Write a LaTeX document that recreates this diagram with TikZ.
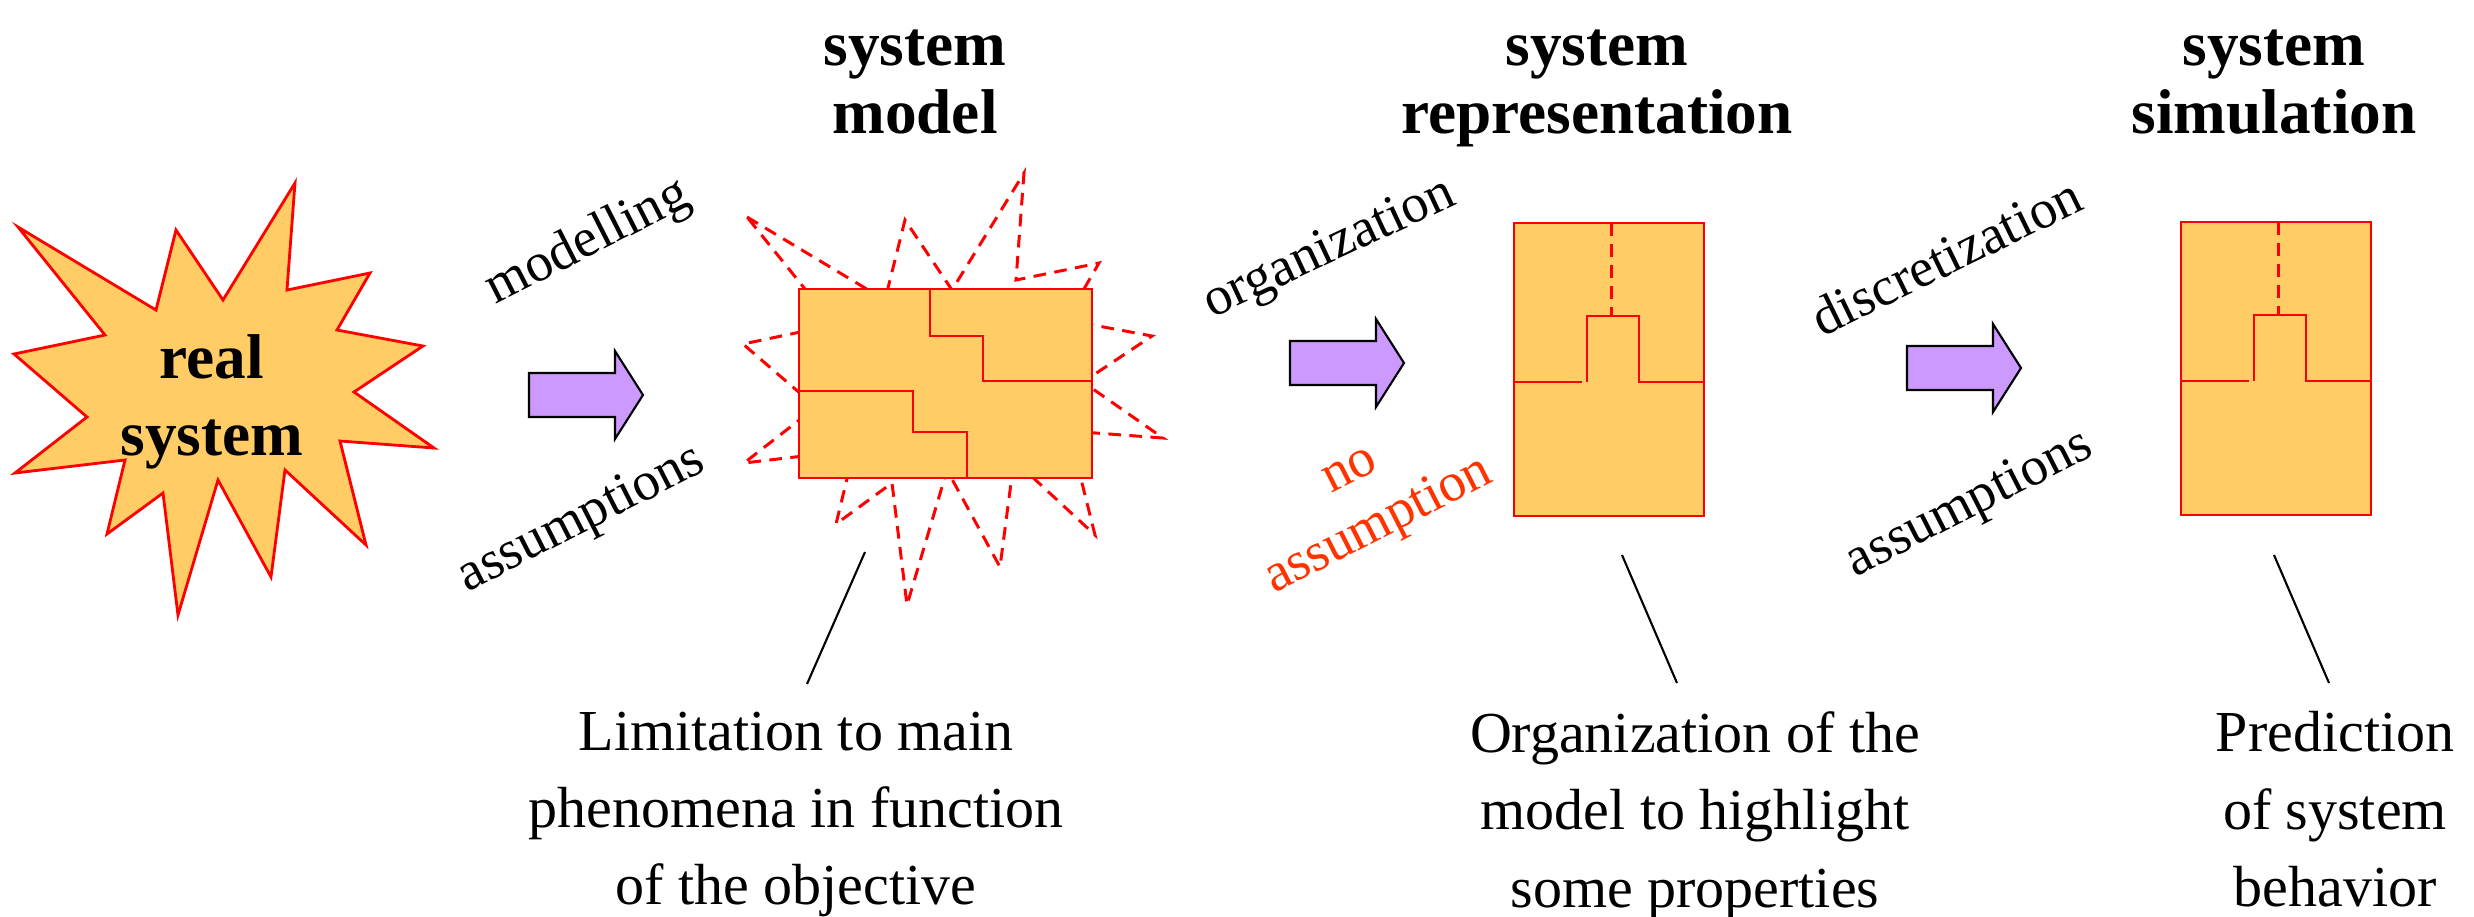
\documentclass[tikz,border=0pt]{standalone}
\usepackage{fontspec}
\setmainfont{Liberation Serif}
\usetikzlibrary{positioning}

\definecolor{burstfill}{RGB}{255,204,102}
\definecolor{arrowfill}{RGB}{204,153,255}
\definecolor{noassum}{RGB}{255,51,0}

\tikzset{
  outline/.style={draw=red, line width=0.8pt},
  filled/.style={outline, fill=burstfill},
  dashline/.style={draw=red, line width=0.85pt, dash pattern=on 3.6pt off 2.4pt},
  bigarrow/.style={draw=black, line width=0.6pt, fill=arrowfill},
  heading/.style={font=\fontsize{18}{19.5}\selectfont\bfseries, align=center, inner sep=0pt},
  steplabel/.style={font=\fontsize{15.5}{18}\selectfont, align=center, inner sep=0pt, rotate=27},
  comment/.style={font=\fontsize{16.5}{22}\selectfont, align=center, inner sep=0pt},
  pointer/.style={draw=black, line width=0.6pt},
}

% star outline of the real system
\newcommand{\burst}[1]{\draw[#1] (18,227) -- (156,310) -- (176,230) -- (223,300)
  -- (295,183) -- (287,290) -- (370,273) -- (337,330) -- (423,346) -- (354,392)
  -- (434,448) -- (340,441) -- (366,545) -- (285,470) -- (271,577) -- (218,480)
  -- (178,615) -- (163,493) -- (107,534) -- (125,460) -- (15,473) -- (87,417)
  -- (14,354) -- (105,335) -- cycle;}

% broad arrow, tail at #1
\newcommand{\flowarrow}[1]{\draw[bigarrow] (#1) ++(0,-22) -- ++(86,0) -- ++(0,-22)
  -- ++(28,44) -- ++(-28,44) -- ++(0,-22) -- ++(-86,0) -- cycle;}

% box with one cell, top left corner at #1
\newcommand{\cellbox}[1]{
  \begin{scope}[shift={(#1)}]
    \draw[filled] (0,0) rectangle (190,293);
    \draw[dashline] (97,0) -- (97,93);% cut
    \draw[outline] (0,159) -- (68,159);
    \draw[outline] (73,159) -- (73,93) -- (125,93) -- (125,159) -- (190,159);
  \end{scope}}

\begin{document}
\begin{tikzpicture}[x=0.1mm, y=-0.1mm]
  \useasboundingbox (0,0) rectangle (2474,916);

  % real system
  \burst{filled}
  \node[heading, font=\fontsize{18}{22}\selectfont\bfseries] (real) at (212,402) {real\\system};

  % system model
  \begin{scope}[shift={(729,-10)}]
    \burst{dashline}
  \end{scope}
  \draw[filled] (799,289) rectangle (1092,478);
  \draw[outline] (930,289) -- (930,336) -- (983,336) -- (983,381) -- (1092,381);
  \draw[outline] (799,391) -- (913,391) -- (913,432) -- (967,432) -- (967,478);

  % representation and simulation
  \cellbox{1514,223}
  \cellbox{2181,222}

  % arrows
  \coordinate (arr1) at (529,395);
  \coordinate (arr2) at (1290,363);
  \coordinate (arr3) at (1907,368);
  \flowarrow{arr1}
  \flowarrow{arr2}
  \flowarrow{arr3}

  % headings
  \node[heading, anchor=north] (model) at (915,29) {system\\model};
  \node[heading, anchor=north] (repr) at (1597,29) {system\\representation};
  \node[heading, anchor=north] (simu) at (2274,29) {system\\simulation};

  % step labels
  \node[steplabel] (modelling) at (588,243) {modelling};
  \node[steplabel] (assum1) at (582,520) {assumptions};
  \node[steplabel, rotate=-2] (organ) at (1330,250) {organization};
  \node[steplabel, text=noassum] (noassum) at (1367,503) {no\\assumption};
  \node[steplabel, rotate=-1] (discr) at (1946,256) {discretization};
  \node[steplabel] (assum2) at (1970,505) {assumptions};

  % comments
  \node[comment, anchor=north] (limit) at (796,711)
    {Limitation to main\\phenomena in function\\of the objective};
  \node[comment, anchor=north] (orgtext) at (1695,711)
    {Organization of the\\model to highlight\\some properties};
  \node[comment, anchor=north] (predict) at (2335,711)
    {Prediction\\of system\\behavior};

  \coordinate (p1) at (865,552);
  \coordinate (q1) at (807,684);
  \coordinate (p2) at (1622,555);
  \coordinate (q2) at (1677,683);
  \coordinate (p3) at (2274,555);
  \coordinate (q3) at (2329,683);
  \draw[pointer] (p1) -- (q1);
  \draw[pointer] (p2) -- (q2);
  \draw[pointer] (p3) -- (q3);

\end{tikzpicture}
\end{document}
